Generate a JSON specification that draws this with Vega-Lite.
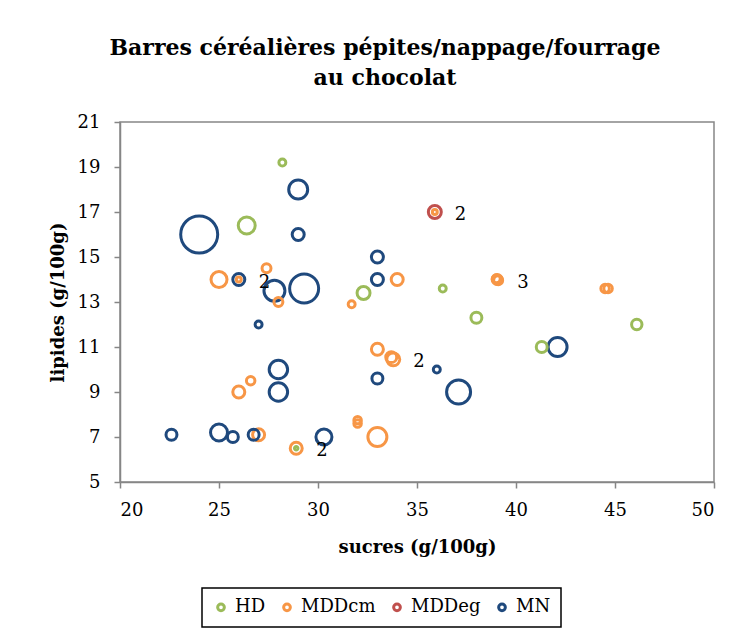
{
  "$schema": "https://vega.github.io/schema/vega-lite/v6.json",
  "width": 594,
  "height": 360,
  "autosize": {"type": "none"},
  "padding": {"left": 120, "top": 122, "right": 31, "bottom": 156},
  "background": "white",
  "title": {
    "text": ["Barres céréalières pépites/nappage/fourrage", "au chocolat"],
    "font": "DejaVu Serif",
    "fontSize": 22,
    "fontWeight": "bold",
    "lineHeight": 30,
    "color": "black",
    "anchor": "middle",
    "dx": -32,
    "offset": 23
  },
  "data": {
    "values": [
      {"groupe": "HD", "sucres": 28.2, "lipides": 19.2, "taille": 12},
      {"groupe": "HD", "sucres": 26.4, "lipides": 16.4, "taille": 72},
      {"groupe": "HD", "sucres": 32.3, "lipides": 13.4, "taille": 42},
      {"groupe": "HD", "sucres": 36.3, "lipides": 13.6, "taille": 12},
      {"groupe": "HD", "sucres": 38.0, "lipides": 12.3, "taille": 30},
      {"groupe": "HD", "sucres": 46.1, "lipides": 12.0, "taille": 27},
      {"groupe": "HD", "sucres": 41.3, "lipides": 11.0, "taille": 30},
      {"groupe": "HD", "sucres": 28.9, "lipides": 6.5, "taille": 3},
      {"groupe": "MDDcm", "sucres": 25.0, "lipides": 14.0, "taille": 64},
      {"groupe": "MDDcm", "sucres": 27.4, "lipides": 14.5, "taille": 20},
      {"groupe": "MDDcm", "sucres": 28.0, "lipides": 13.0, "taille": 20},
      {"groupe": "MDDcm", "sucres": 26.0, "lipides": 14.0, "taille": 6},
      {"groupe": "MDDcm", "sucres": 31.7, "lipides": 12.9, "taille": 12},
      {"groupe": "MDDcm", "sucres": 34.0, "lipides": 14.0, "taille": 36},
      {"groupe": "MDDcm", "sucres": 39.05, "lipides": 14.0, "taille": 25, "etiquette": "3"},
      {"groupe": "MDDcm", "sucres": 39.1, "lipides": 13.97, "taille": 20},
      {"groupe": "MDDcm", "sucres": 39.0, "lipides": 14.03, "taille": 16},
      {"groupe": "MDDcm", "sucres": 44.5, "lipides": 13.6, "taille": 18},
      {"groupe": "MDDcm", "sucres": 44.65, "lipides": 13.6, "taille": 18},
      {"groupe": "MDDcm", "sucres": 33.0, "lipides": 10.9, "taille": 36},
      {"groupe": "MDDcm", "sucres": 33.8, "lipides": 10.45, "taille": 42, "etiquette": "2"},
      {"groupe": "MDDcm", "sucres": 33.7, "lipides": 10.55, "taille": 30},
      {"groupe": "MDDcm", "sucres": 26.0, "lipides": 9.0, "taille": 36},
      {"groupe": "MDDcm", "sucres": 26.6, "lipides": 9.5, "taille": 18},
      {"groupe": "MDDcm", "sucres": 27.0, "lipides": 7.1, "taille": 36},
      {"groupe": "MDDcm", "sucres": 32.0, "lipides": 7.6, "taille": 14},
      {"groupe": "MDDcm", "sucres": 32.0, "lipides": 7.75, "taille": 14},
      {"groupe": "MDDcm", "sucres": 33.0, "lipides": 7.0, "taille": 90},
      {"groupe": "MDDcm", "sucres": 28.9, "lipides": 6.5, "taille": 36, "etiquette": "2"},
      {"groupe": "MDDcm", "sucres": 35.9, "lipides": 17.0, "taille": 6},
      {"groupe": "MDDeg", "sucres": 35.9, "lipides": 17.0, "taille": 42, "etiquette": "2"},
      {"groupe": "MN", "sucres": 24.0, "lipides": 16.0, "taille": 342},
      {"groupe": "MN", "sucres": 29.0, "lipides": 18.0, "taille": 90},
      {"groupe": "MN", "sucres": 29.0, "lipides": 16.0, "taille": 36},
      {"groupe": "MN", "sucres": 26.0, "lipides": 14.0, "taille": 36, "etiquette": "2"},
      {"groupe": "MN", "sucres": 27.8, "lipides": 13.5, "taille": 110},
      {"groupe": "MN", "sucres": 29.3, "lipides": 13.6, "taille": 210},
      {"groupe": "MN", "sucres": 33.0, "lipides": 15.0, "taille": 36},
      {"groupe": "MN", "sucres": 33.0, "lipides": 14.0, "taille": 36},
      {"groupe": "MN", "sucres": 27.0, "lipides": 12.0, "taille": 12},
      {"groupe": "MN", "sucres": 28.0, "lipides": 10.0, "taille": 85},
      {"groupe": "MN", "sucres": 28.0, "lipides": 9.0, "taille": 85},
      {"groupe": "MN", "sucres": 33.0, "lipides": 9.6, "taille": 30},
      {"groupe": "MN", "sucres": 36.0, "lipides": 10.0, "taille": 12},
      {"groupe": "MN", "sucres": 37.1, "lipides": 9.0, "taille": 144},
      {"groupe": "MN", "sucres": 42.1, "lipides": 11.0, "taille": 90},
      {"groupe": "MN", "sucres": 22.6, "lipides": 7.1, "taille": 30},
      {"groupe": "MN", "sucres": 25.0, "lipides": 7.2, "taille": 72},
      {"groupe": "MN", "sucres": 25.7, "lipides": 7.0, "taille": 30},
      {"groupe": "MN", "sucres": 26.75, "lipides": 7.1, "taille": 30},
      {"groupe": "MN", "sucres": 30.3, "lipides": 7.0, "taille": 64}
    ]
  },
  "encoding": {
    "x": {
      "field": "sucres",
      "type": "quantitative",
      "title": "sucres (g/100g)",
      "scale": {"domain": [20, 50], "nice": false, "zero": false},
      "axis": {"values": [20, 25, 30, 35, 40, 45, 50], "labelPadding": 13, "titlePadding": 19}
    },
    "y": {
      "field": "lipides",
      "type": "quantitative",
      "title": "lipides (g/100g)",
      "scale": {"domain": [5, 21], "nice": false, "zero": false},
      "axis": {"values": [5, 7, 9, 11, 13, 15, 17, 19, 21], "labelPadding": 14, "titlePadding": 10}
    }
  },
  "layer": [
    {
      "mark": {"type": "point", "shape": "circle", "filled": false, "strokeWidth": 3, "opacity": 1},
      "encoding": {
        "color": {
          "field": "groupe",
          "type": "nominal",
          "title": null,
          "scale": {
            "domain": ["HD", "MDDcm", "MDDeg", "MN"],
            "range": ["#9BBB59", "#F79646", "#C0504D", "#1F497D"]
          },
          "legend": {
            "orient": "none",
            "direction": "horizontal",
            "legendX": 82,
            "legendY": 466,
            "symbolType": "circle",
            "symbolSize": 45,
            "symbolStrokeWidth": 3,
            "symbolFillColor": "white",
            "labelFont": "DejaVu Serif",
            "labelFontSize": 18,
            "labelColor": "black",
            "labelOffset": 5,
            "columnPadding": 11,
            "padding": 10,
            "strokeColor": "black",
            "fillColor": "white"
          }
        },
        "size": {
          "field": "taille",
          "type": "quantitative",
          "scale": {"type": "linear", "domain": [0, 400], "range": [0, 1600], "zero": true},
          "legend": null
        },
        "order": {"field": "taille", "sort": "descending"}
      }
    },
    {
      "transform": [{"filter": "datum.etiquette != null"}],
      "mark": {"type": "text", "align": "left", "baseline": "middle", "dx": 20, "dy": 3, "font": "DejaVu Serif", "fontSize": 18, "color": "black"},
      "encoding": {"text": {"field": "etiquette"}}
    }
  ],
  "config": {
    "view": {"stroke": "#868686", "strokeWidth": 1.5},
    "legend": {"strokeWidth": 1.5},
    "axis": {
      "grid": false,
      "domainColor": "#868686",
      "domainWidth": 1.5,
      "tickColor": "#868686",
      "tickWidth": 1.5,
      "tickSize": 6,
      "labelFont": "DejaVu Serif",
      "labelFontSize": 18,
      "labelColor": "black",
      "titleFont": "DejaVu Serif",
      "titleFontSize": 18,
      "titleFontWeight": "bold",
      "titleColor": "black"
    }
  }
}
